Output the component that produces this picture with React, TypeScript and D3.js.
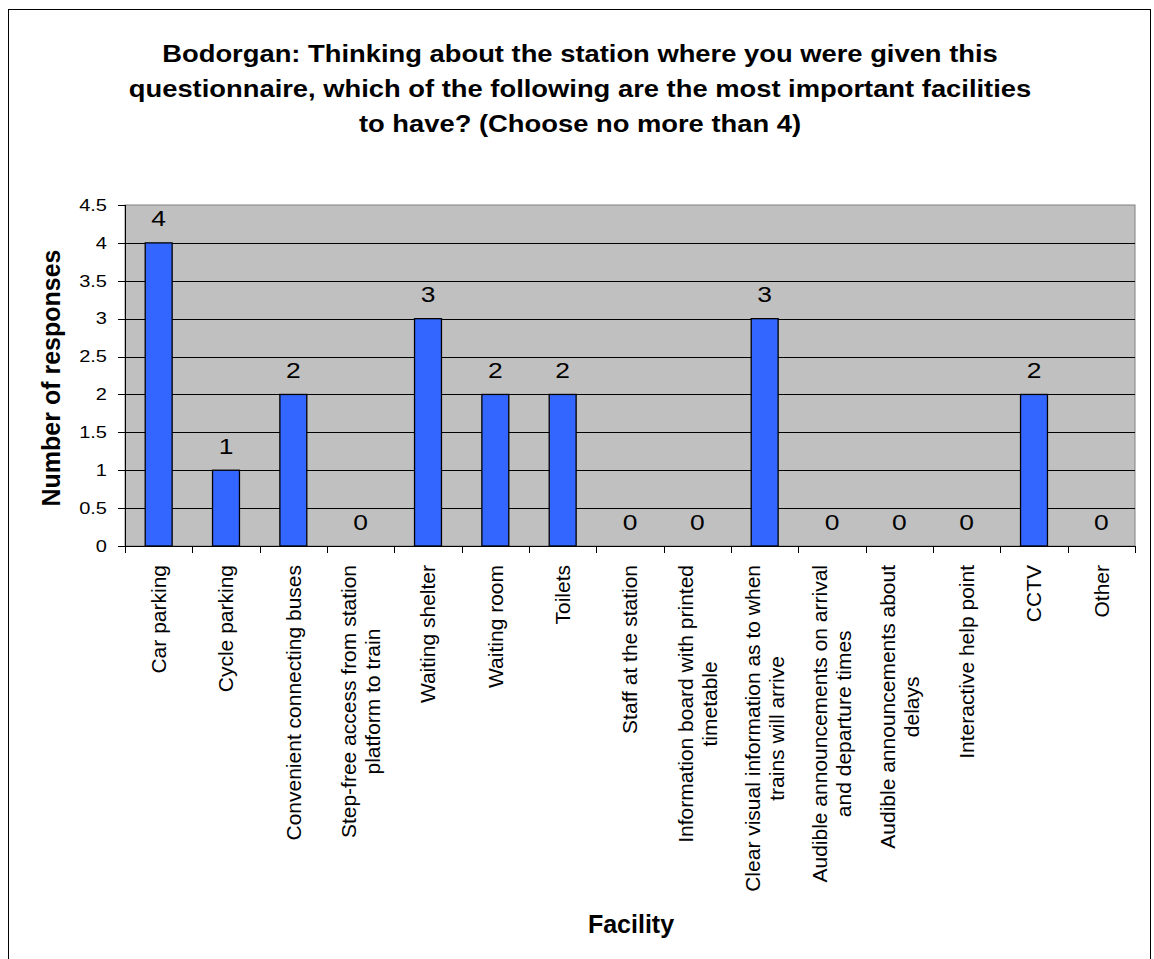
import React from "react";
import * as d3 from "d3";

const titleLines = [
  "Bodorgan: Thinking about the station where you were given this",
  "questionnaire, which of the following are the most important facilities",
  "to have? (Choose no more than 4)",
];

const categories = [
  "Car parking",
  "Cycle parking",
  "Convenient connecting buses",
  "Step-free access from station platform to train",
  "Waiting shelter",
  "Waiting room",
  "Toilets",
  "Staff at the station",
  "Information board with printed timetable",
  "Clear visual information as to when trains will arrive",
  "Audible announcements on arrival and departure times",
  "Audible announcements about delays",
  "Interactive help point",
  "CCTV",
  "Other",
];

const categoryLines = [
  ["Car parking"],
  ["Cycle parking"],
  ["Convenient connecting buses"],
  ["Step-free access from station", "platform to train"],
  ["Waiting shelter"],
  ["Waiting room"],
  ["Toilets"],
  ["Staff at the station"],
  ["Information board with printed", "timetable"],
  ["Clear visual information as to when", "trains will arrive"],
  ["Audible announcements on arrival", "and departure times"],
  ["Audible announcements about", "delays"],
  ["Interactive help point"],
  ["CCTV"],
  ["Other"],
];

const responses = [4, 1, 2, 0, 3, 2, 2, 0, 0, 3, 0, 0, 0, 2, 0];

const yTicks = [0, 0.5, 1, 1.5, 2, 2.5, 3, 3.5, 4, 4.5];
const yTickLabels = ["0", "0.5", "1", "1.5", "2", "2.5", "3", "3.5", "4", "4.5"];

const yTitle = "Number of responses";
const xTitle = "Facility";

const FONT = "'Liberation Sans', Arial, Helvetica, sans-serif";

let measureCtx: CanvasRenderingContext2D | null = null;
function measure(text: string, font: string): number {
  if (!measureCtx) {
    const c = document.createElement("canvas");
    measureCtx = c.getContext("2d");
  }
  if (!measureCtx) return text.length * 10;
  measureCtx.font = font;
  return measureCtx.measureText(text).width;
}

export default function App() {
  const W = 1154;
  const H = 959;
  const left = 125;
  const right = 1135;
  const top = 205;
  const bottom = 546;

  const x = d3
    .scaleBand<string>()
    .domain(categories)
    .range([left, right])
    .paddingInner(0.6)
    .paddingOuter(0.3);
  const step = x.step();
  const y = d3.scaleLinear().domain([0, 4.5]).range([bottom, top]);

  const boundaries = categories
    .map((c) => (x(c) as number) - (step - x.bandwidth()) / 2)
    .concat([right]);

  const labelFontSize = 21;
  const labelFont = `${labelFontSize}px ${FONT}`;
  const lineH = 24;
  const labelTop = 565;

  return (
    <div style={{ position: "absolute", left: 0, top: 0 }}>
      <svg width={W} height={H} style={{ display: "block", background: "#fff" }}>
        <rect x={8.5} y={9.5} width={1142} height={1000} fill="#fff" stroke="#000" strokeWidth={1} />

        {titleLines.map((t, i) => (
          <text
            key={i}
            transform={`translate(580,${62 + i * 35}) scale(1.14,1)`}
            textAnchor="middle"
            fontFamily={FONT}
            fontWeight="bold"
            fontSize={24}
            fill="#000"
          >
            {t}
          </text>
        ))}

        {/* plot area */}
        <rect x={left} y={top} width={right - left} height={bottom - top} fill="#C0C0C0" stroke="#808080" strokeWidth={1} />

        {yTicks
          .filter((t) => t > 0 && t < 4.5)
          .map((t) => (
            <line key={t} x1={left} x2={right} y1={Math.round(y(t)) + 0.5} y2={Math.round(y(t)) + 0.5} stroke="#000" strokeWidth={1} />
          ))}

        {/* bars */}
        {categories.map((c, i) => (
          <rect
            key={c}
            x={x(c)}
            y={y(responses[i])}
            width={x.bandwidth()}
            height={bottom - y(responses[i])}
            fill="#3366FF"
            stroke="#000"
            strokeWidth={1.3}
          />
        ))}

        {/* value labels */}
        {categories.map((c, i) => (
          <text
            key={c}
            transform={`translate(${(x(c) as number) + x.bandwidth() / 2},${y(responses[i]) - 16.5}) scale(1.2,1)`}
            textAnchor="middle"
            fontFamily={FONT}
            fontSize={22}
            fill="#000"
          >
            {responses[i]}
          </text>
        ))}

        {/* axes */}
        <line x1={left + 0.5} x2={left + 0.5} y1={top} y2={bottom} stroke="#000" strokeWidth={1} />
        <line x1={left - 7} x2={right} y1={bottom + 0.5} y2={bottom + 0.5} stroke="#000" strokeWidth={1} />
        {yTicks.map((t) => (
          <line key={t} x1={left - 7} x2={left} y1={Math.round(y(t)) + 0.5} y2={Math.round(y(t)) + 0.5} stroke="#000" strokeWidth={1} />
        ))}
        {yTicks.map((t, i) => (
          <text
            key={t}
            transform={`translate(107,${y(t)}) scale(1.25,1)`}
            dy="0.36em"
            textAnchor="end"
            fontFamily={FONT}
            fontSize={16}
            fill="#000"
          >
            {yTickLabels[i]}
          </text>
        ))}
        {boundaries.map((b, i) => (
          <line key={i} x1={Math.round(b) + 0.5} x2={Math.round(b) + 0.5} y1={bottom} y2={bottom + 7} stroke="#000" strokeWidth={1} />
        ))}

        {/* category labels */}
        {categories.map((c, i) => {
          const lines = categoryLines[i];
          const maxLen = Math.max(...lines.map((l) => measure(l, labelFont)));
          const cx = (x(c) as number) + x.bandwidth() / 2;
          const blockH = lines.length * lineH;
          const base0 = cx - blockH / 2 + lineH / 2 + 7.25;
          return (
            <g key={c} transform={`translate(${base0},${labelTop}) rotate(-90)`}>
              {lines.map((l, j) => (
                <text
                  key={j}
                  x={-maxLen / 2}
                  y={j * lineH}
                  textAnchor="middle"
                  fontFamily={FONT}
                  fontSize={labelFontSize}
                  fill="#000"
                >
                  {l}
                </text>
              ))}
            </g>
          );
        })}

        {/* axis titles */}
        <text
          transform={`translate(60,378) rotate(-90)`}
          textAnchor="middle"
          fontFamily={FONT}
          fontWeight="bold"
          fontSize={25}
          fill="#000"
        >
          {yTitle}
        </text>
        <text x={631} y={933} textAnchor="middle" fontFamily={FONT} fontWeight="bold" fontSize={25} fill="#000">
          {xTitle}
        </text>
      </svg>
    </div>
  );
}
